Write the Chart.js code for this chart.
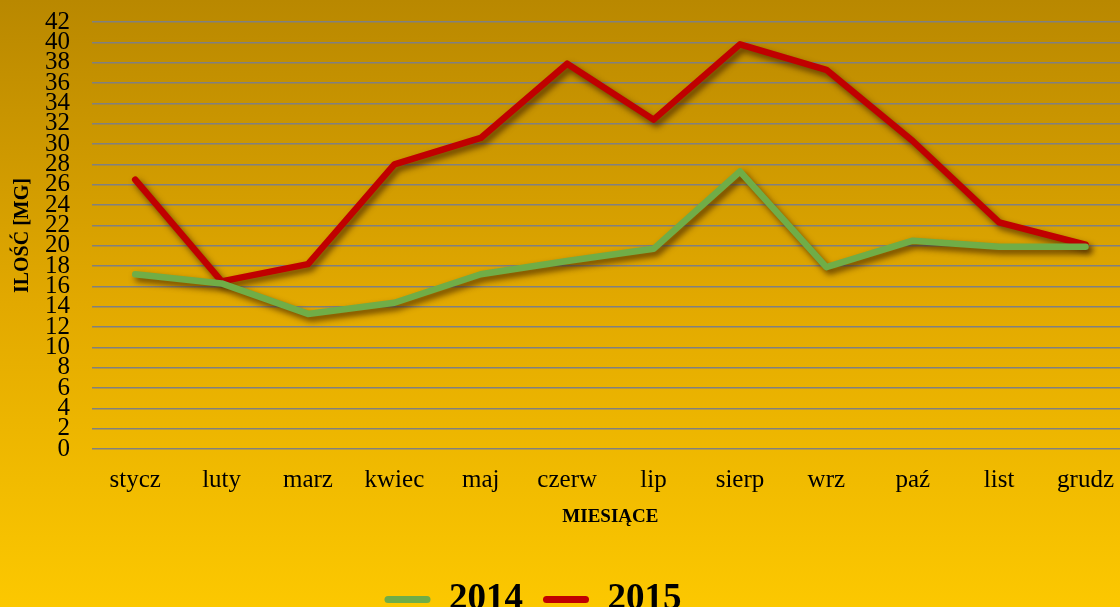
<!DOCTYPE html>
<html>
<head>
<meta charset="utf-8">
<script src="https://cdn.jsdelivr.net/npm/chart.js@4.4.0/dist/chart.umd.min.js"></script>
<style>
  html, body { margin: 0; padding: 0; overflow: hidden; width: 1120px; height: 607px; }
  body { background: linear-gradient(to bottom, #b98800 0%, #e2a900 50%, #fcc800 100%); }
  #wrap { width: 1120px; height: 607px; overflow: hidden; position: relative; }
  #chart { position: absolute; left: 0; top: 0; }
</style>
</head>
<body>
<div id="wrap"><canvas id="chart" width="1130" height="628"></canvas></div>
<script>
const months = ["stycz", "luty", "marz", "kwiec", "maj", "czerw", "lip", "sierp", "wrz", "paź", "list", "grudz"];
const yearLabels = ["2014", "2015"];
const values2014 = [17.2, 16.3, 13.3, 14.4, 17.2, 18.5, 19.7, 27.3, 17.9, 20.5, 19.9, 19.9];
const values2015 = [26.5, 16.5, 18.2, 28.0, 30.6, 37.9, 32.4, 39.8, 37.3, 30.3, 22.3, 20.1];
const yMax = 42;
const yStep = 2;

const serif = "'Liberation Serif', 'Times New Roman', serif";

// soft drop shadow under the lines, like the office chart
const lineShadow = {
  id: 'lineShadow',
  beforeDatasetDraw(chart) {
    const ctx = chart.ctx;
    ctx.save();
    ctx.shadowColor = 'rgba(60,30,0,0.75)';
    ctx.shadowBlur = 6;
    ctx.shadowOffsetX = 3;
    ctx.shadowOffsetY = 4;
  },
  afterDatasetDraw(chart) {
    chart.ctx.restore();
  }
};

// legend sits a bit left of the canvas centre in the original
const legendShift = {
  id: 'legendShift',
  afterLayout(chart) {
    chart.legend.left -= 32;
    chart.legend.right -= 32;
  }
};

new Chart(document.getElementById('chart'), {
  type: 'line',
  data: {
    labels: months,
    datasets: [{
      label: yearLabels[0],
      data: values2014,
      borderColor: '#70ad47',
      backgroundColor: '#70ad47',
      borderWidth: 6.5,
      pointRadius: 0,
      borderJoinStyle: 'round',
      borderCapStyle: 'round',
      tension: 0
    }, {
      label: yearLabels[1],
      data: values2015,
      borderColor: '#c00000',
      backgroundColor: '#c00000',
      borderWidth: 6.5,
      pointRadius: 0,
      borderJoinStyle: 'round',
      borderCapStyle: 'round',
      tension: 0
    }]
  },
  options: {
    responsive: false,
    animation: false,
    layout: { padding: { top: 22, left: 0, right: 0, bottom: 0 } },
    scales: {
      x: {
        offset: true,
        grid: { display: false, drawTicks: false },
        border: { display: false },
        ticks: { color: '#000', padding: 16, font: { family: serif, size: 25 }, maxRotation: 0, autoSkip: false },
        title: {
          display: true, text: 'MIESIĄCE', color: '#000',
          font: { family: serif, size: 19, weight: 'bold' },
          padding: { top: -6, bottom: 33 }
        }
      },
      y: {
        min: 0, max: yMax,
        // invisible tick marks keep the labels away from the grid
        grid: { color: '#808080', lineWidth: 1.5, drawTicks: true, tickLength: 22, tickColor: 'rgba(0,0,0,0)' },
        border: { display: false },
        ticks: { stepSize: yStep, autoSkip: false, color: '#000', padding: 0, font: { family: serif, size: 25 } },
        title: {
          display: true, text: 'ILOŚĆ [MG]', color: '#000',
          font: { family: serif, size: 20, weight: 'bold' },
          padding: { top: 11, bottom: 10 }
        }
      }
    },
    plugins: {
      legend: {
        position: 'bottom',
        labels: {
          color: '#000',
          font: { family: serif, size: 37, weight: 'bold' },
          boxWidth: 46,
          boxHeight: 7,
          padding: 20,
          useBorderRadius: true,
          borderRadius: 3.5,
          generateLabels(chart) {
            const items = Chart.defaults.plugins.legend.labels.generateLabels(chart);
            items.forEach(it => { it.fillStyle = it.strokeStyle; it.lineWidth = 0; });
            return items;
          }
        }
      },
      tooltip: { enabled: false }
    }
  },
  plugins: [lineShadow, legendShift]
});
</script>
</body>
</html>
